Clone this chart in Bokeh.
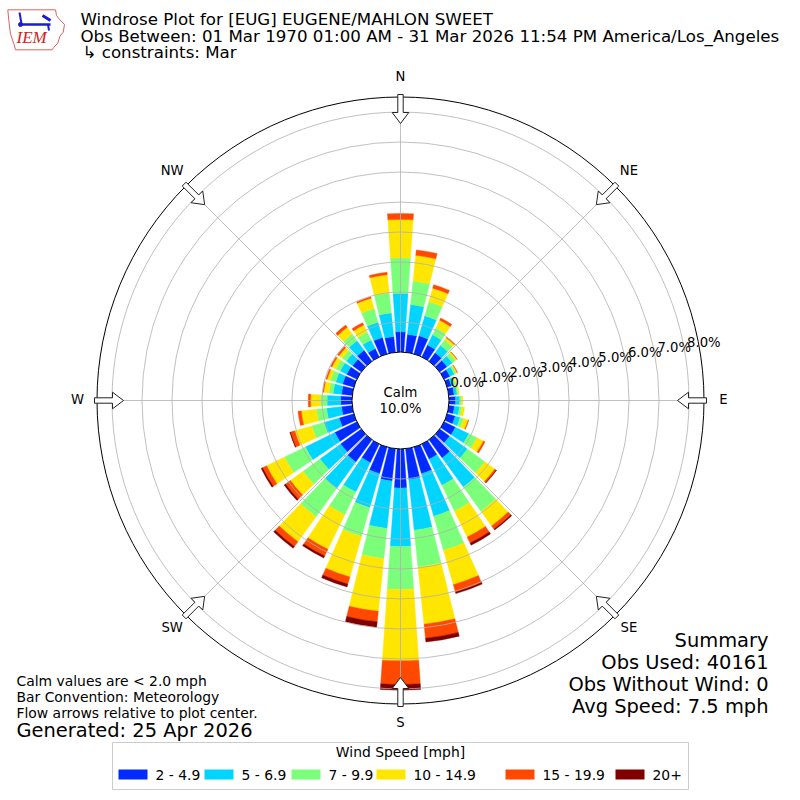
import math
from bokeh.plotting import figure
from bokeh.models import ColumnDataSource, Range1d
from bokeh.embed import file_html
from bokeh.resources import INLINE
from bokeh.core.properties import value

# ---------------- data ----------------
directions = [0, 10, 20, 30, 40, 50, 60, 70, 80, 90, 100, 110, 120, 130, 140, 150, 160, 170,
              180, 190, 200, 210, 220, 230, 240, 250, 260, 270, 280, 290, 300, 310, 320, 330, 340, 350]
speed_bins = ["2 - 4.9", "5 - 6.9", "7 - 9.9", "10 - 14.9", "15 - 19.9", "20+"]
bin_colors = ["#002aff", "#00d4ff", "#7bff7b", "#ffe600", "#ff4800", "#800000"]

pct_2_5 = [0.68, 0.60, 0.63, 0.44, 0.35, 0.30, 0.22, 0.15, 0.18, 0.22, 0.19, 0.28, 0.42, 0.41, 0.75, 0.56, 0.92, 1.03,
           1.30, 1.08, 0.92, 0.69, 0.92, 0.85, 0.82, 0.51, 0.36, 0.38, 0.36, 0.39, 0.38, 0.36, 0.45, 0.31, 0.57, 0.53]
pct_5_7 = [1.28, 1.00, 0.69, 0.38, 0.30, 0.22, 0.16, 0.10, 0.10, 0.14, 0.17, 0.17, 0.50, 0.73, 1.20, 0.97, 1.48, 1.70,
           1.95, 1.59, 1.18, 1.09, 1.08, 0.85, 1.09, 0.53, 0.50, 0.45, 0.28, 0.24, 0.24, 0.26, 0.40, 0.32, 0.53, 0.79]
pct_7_10 = [1.18, 0.79, 0.49, 0.26, 0.23, 0.13, 0.07, 0.05, 0.04, 0.05, 0.08, 0.12, 0.30, 0.72, 1.00, 0.96, 1.18, 1.24,
            1.43, 1.01, 1.00, 0.84, 1.17, 0.70, 0.77, 0.42, 0.34, 0.22, 0.14, 0.18, 0.16, 0.16, 0.27, 0.29, 0.47, 0.67]
pct_10_15 = [1.28, 0.86, 0.47, 0.28, 0.09, 0.06, 0.04, 0.03, 0.03, 0.05, 0.09, 0.16, 0.24, 0.41, 0.60, 0.96, 1.19, 1.91,
             2.38, 1.77, 1.40, 1.28, 1.03, 0.52, 0.67, 0.59, 0.51, 0.33, 0.18, 0.12, 0.15, 0.14, 0.28, 0.26, 0.36, 0.61]
pct_15_20 = [0.20, 0.18, 0.12, 0.08, 0.03, 0.01, 0.01, 0.00, 0.00, 0.00, 0.00, 0.02, 0.06, 0.06, 0.13, 0.22, 0.25, 0.47,
             0.79, 0.35, 0.25, 0.25, 0.20, 0.20, 0.15, 0.15, 0.11, 0.08, 0.03, 0.04, 0.05, 0.06, 0.09, 0.09, 0.05, 0.08]
pct_20p = [0.00, 0.00, 0.00, 0.00, 0.00, 0.00, 0.00, 0.00, 0.00, 0.00, 0.00, 0.00, 0.00, 0.01, 0.04, 0.08, 0.06, 0.13,
           0.19, 0.18, 0.10, 0.07, 0.07, 0.06, 0.05, 0.02, 0.00, 0.00, 0.00, 0.00, 0.00, 0.00, 0.00, 0.00, 0.00, 0.00]
calm_pct = 10.0
radial_ticks = [0, 1, 2, 3, 4, 5, 6, 7, 8]
r_max = 8.5
compass_names = ["N", "NE", "E", "SE", "S", "SW", "W", "NW"]
compass_deg = [0, 45, 90, 135, 180, 225, 270, 315]

title_lines = ["Windrose Plot for [EUG] EUGENE/MAHLON SWEET",
               "Obs Between: 01 Mar 1970 01:00 AM - 31 Mar 2026 11:54 PM America/Los_Angeles",
               "\u21b3 constraints: Mar"]
note_lines = ["Calm values are < 2.0 mph", "Bar Convention: Meteorology", "Flow arrows relative to plot center."]
generated = "Generated: 25 Apr 2026"
summary_lines = ["Summary", "Obs Used: 40161", "Obs Without Wind: 0", "Avg Speed: 7.5 mph"]

# ---------------- layout ----------------
S = 30.0            # pixels per percent
R0 = 48.5 / S       # calm circle radius (data units)
FONT = "DejaVu Sans"
BL = 0.36           # baseline correction (fraction of font size)

p = figure(width=800, height=800, x_range=Range1d(-400 / S, 400 / S), y_range=Range1d(-400 / S, 400 / S),
           output_backend="svg", toolbar_location=None, min_border=0,
           x_axis_location=None, y_axis_location=None)
p.grid.visible = False
p.outline_line_color = None
p.background_fill_color = "white"


def X(px):
    return (px - 400) / S


def Y(py):
    return (400 - py) / S


def txt(px, py, s, size, align="left", font=FONT, color="black", style="normal"):
    p.text(x=[X(px)], y=[Y(py - BL * size)], text=[s], text_font=value(font),
           text_font_size=value(f"{size}px"), text_align=value(align), text_baseline=value("alphabetic"),
           text_color=color, text_font_style=value(style))


# ---------------- bars ----------------
bins = [pct_2_5, pct_5_7, pct_7_10, pct_10_15, pct_15_20, pct_20p]
half = math.radians(4.0)
cols = dict(inner=[], outer=[], start=[], end=[], color=[])
for i, d in enumerate(directions):
    theta = math.radians(90 - d)
    cum = 0.0
    for j, vals in enumerate(bins):
        v = vals[i]
        if v <= 0:
            continue
        cols["inner"].append(R0 + cum)
        cum += v
        cols["outer"].append(R0 + cum)
        cols["start"].append(theta - half)
        cols["end"].append(theta + half)
        cols["color"].append(bin_colors[j])
src = ColumnDataSource(cols)
p.annular_wedge(x=0, y=0, inner_radius="inner", outer_radius="outer", start_angle="start",
                end_angle="end", fill_color="color", line_color="color", line_width=0.4, source=src)

# ---------------- grid ----------------
R_out = R0 + r_max
p.circle(x=[0] * 8, y=[0] * 8, radius=[R0 + k for k in radial_ticks[1:]], fill_color=None,
         line_color="#b0b0b0", line_width=0.8)
sx0, sy0, sx1, sy1 = [], [], [], []
for a in compass_deg:
    ar = math.radians(a)
    sx0.append(0); sy0.append(0)
    sx1.append(R_out * math.sin(ar)); sy1.append(R_out * math.cos(ar))
p.segment(x0=sx0, y0=sy0, x1=sx1, y1=sy1, line_color="#b0b0b0", line_width=0.8)

# calm circle
p.circle(x=[0], y=[0], radius=[R0], fill_color="white", line_color="black", line_width=1)
txt(400, 396.7, "Calm", 13.2, align="center")
txt(400, 412.7, f"{calm_pct:.1f}%", 13.2, align="center")

# outer circle
p.circle(x=[0], y=[0], radius=[R_out], fill_color=None, line_color="black", line_width=1)

# radial labels
sin_t = 0.1667
cos_t = math.sqrt(1 - sin_t ** 2)
for k in radial_ticks:
    r = R0 + k
    p.text(x=[r * cos_t + 0.07], y=[r * sin_t + 0.164 + BL * 13.2 / S], text=[f"{k:.1f}%"],
           text_font=value(FONT), text_font_size=value("13.2px"), text_align=value("left"),
           text_baseline=value("alphabetic"), text_color="black")

# compass labels
for name, a in zip(compass_names, compass_deg):
    ar = math.radians(a)
    rr = 323 / S
    p.text(x=[rr * math.sin(ar)], y=[rr * math.cos(ar) + 1.5 / S], text=[name], text_font=value(FONT),
           text_font_size=value("13.2px"), text_align=value("center"), text_baseline=value("middle"),
           text_color="black")

# flow arrows (hollow, pointing to center)
shape = [(277, 0), (288, 8.3), (288, 2.7), (306, 2.7), (306, -2.7), (288, -2.7), (288, -8.3)]
axs, ays = [], []
for a in compass_deg:
    ar = math.radians(a)
    ux, uy = math.sin(ar), math.cos(ar)
    tx, ty = math.cos(ar), -math.sin(ar)
    axs.append([(r * ux + w * tx) / S for r, w in shape])
    ays.append([(r * uy + w * ty) / S for r, w in shape])
p.patches(xs=axs, ys=ays, fill_color="white", line_color="#222222", line_width=1)

# ---------------- legend ----------------
p.quad(left=[X(112)], right=[X(688)], top=[Y(742)], bottom=[Y(789)], fill_color="white",
       line_color="#cccccc", line_width=1)
txt(400, 757, "Wind Speed [mph]", 13.9, align="center")
legend_text_x = [155, 241, 328, 413, 542, 652]
for lab, col, tx in zip(speed_bins, bin_colors, legend_text_x):
    p.quad(left=[X(tx - 37)], right=[X(tx - 8)], top=[Y(769)], bottom=[Y(779)], fill_color=col, line_color=None)
    txt(tx, 779.5, lab, 13.9)

# ---------------- texts ----------------
for line, yb, xo in zip(title_lines, [25, 41.7, 58.4], [80, 80, 82]):
    txt(xo, yb, line, 16.67)
for line, yb in zip(note_lines, [685.7, 701.5, 717.3]):
    txt(16, yb, line, 13.9)
txt(16, 736.7, generated, 19.44)
for line, yb in zip(summary_lines, [647, 669, 691, 713]):
    txt(768, yb, line, 19.44, align="right")

# ---------------- logo (approximation) ----------------
iowa = [(7.3, 9.3), (55, 9.3), (56, 15), (59.3, 19.3), (64, 24), (62.7, 31.7), (59.3, 36), (57.3, 42.7),
        (53.3, 46.7), (51.7, 49.3), (15, 49.3), (13.3, 43.3), (10, 33.3), (8.3, 20)]
p.patch(x=[X(a) for a, b in iowa], y=[Y(b) for a, b in iowa], fill_color="white", line_color="#e06060",
        line_width=1)
p.segment(x0=[X(20), X(19), X(42), X(47.5)], y0=[Y(24), Y(12), Y(15), Y(24)],
          x1=[X(50), X(21), X(50), X(48.5)], y1=[Y(24), Y(23), Y(20), Y(30)],
          line_color="#1a1adc", line_width=[2.5, 2, 3, 2])
p.scatter(x=[X(20)], y=[Y(24)], size=4, color="#1a1adc")
txt(16, 43.3, "IEM", 17, font="Liberation Serif", color="#d42020", style="italic")

open("out.html", "w").write(file_html(p, INLINE))
